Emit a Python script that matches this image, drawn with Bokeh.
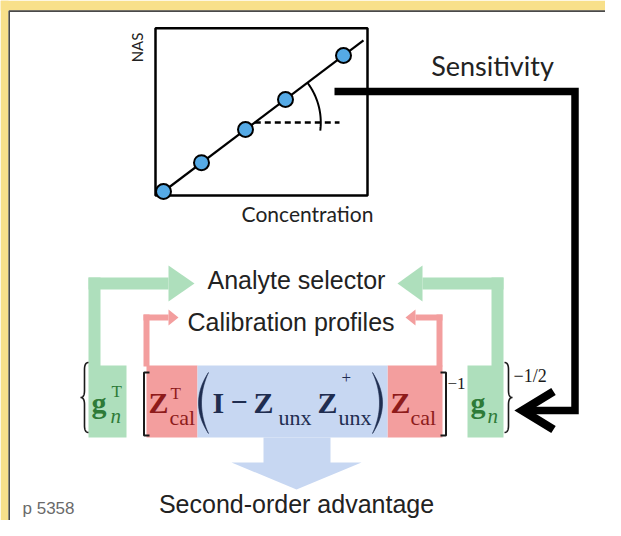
import numpy as np
from bokeh.plotting import figure
from bokeh.models import Range1d
from bokeh.core.properties import value
from bokeh.embed import file_html
from bokeh.resources import INLINE

# ---- data of the small NAS-vs-concentration inset ----
conc = [0.0, 0.95, 2.05, 3.05, 4.5]
nas = [0.0, 0.72, 1.55, 2.3, 3.4]
fit_conc = [0.0, 5.0]
fit_nas = [0.0, 3.78]
ref_nas = 1.725          # level of the dashed horizontal reference
ref_end = 4.4            # end of the dashed reference
axis_labels = ["Concentration", "NAS"]
labels = ["Sensitivity", "Analyte selector", "Calibration profiles",
          "Second-order advantage"]
footer = "p 5358"

# inset placement in picture pixels (origin, px per unit)
OX, OY, S = 163.0, 191.0, 40.0
W, H = 605, 520

p = figure(width=W, height=H, x_range=Range1d(0, W), y_range=Range1d(H, 0),
           output_backend="svg", toolbar_location=None, min_border=0)
p.axis.visible = False
p.grid.visible = False
p.outline_line_color = None
p.background_fill_color = "white"
p.border_fill_color = "white"
p.extra_x_ranges = {"conc": Range1d((0 - OX) / S, (W - OX) / S)}
p.extra_y_ranges = {"nas": Range1d((OY - H) / S, (OY - 0) / S)}
IN = dict(x_range_name="conc", y_range_name="nas")

# yellow frame
YEL = "#F8E08A"
p.quad(left=[0, 0], right=[W, 8], bottom=[10, H], top=[0, 0], fill_color=YEL, line_color=None)
p.line([W, 8.7, 8.7], [10.6, 10.6, H], line_color="#4a4a4a", line_width=1.6)

K = 0.43  # baseline offset of "middle" texts, in em

def T(x, y, s, size, color="#222222", font="Liberation Serif", style="normal",
      align="left", angle=0.0, base=True):
    yy = y - K * size if base else y
    p.text(x=[x], y=[yy], text=[s], text_font=value(font), text_font_size=f"{size}px",
           text_font_style=style, text_color=color, text_align=align,
           text_baseline="middle", angle=angle)

# ---- inset ----
p.quad(left=[-0.2], right=[5.1], bottom=[-0.1], top=[4.08], fill_color=None,
       line_color="black", line_width=2.5, **IN)
p.line(fit_conc, fit_nas, line_color="black", line_width=2.2, **IN)
slope = (fit_nas[1] - fit_nas[0]) / (fit_conc[1] - fit_conc[0])
c0 = fit_conc[0] + (ref_nas - fit_nas[0]) / slope
p.line([c0, ref_end], [ref_nas, ref_nas], line_color="black", line_width=2.5,
       line_dash="6 4", **IN)
th = np.linspace(np.radians(-7), np.arctan(slope), 40)
r = 1.65
p.line(c0 + r * np.cos(th), ref_nas + r * np.sin(th), line_color="black", line_width=2, **IN)
p.scatter(conc, nas, size=15, fill_color="#55AAE6", line_color="black", line_width=2, **IN)
T(307, 213, axis_labels[0], 21, font="Lato", align="center", base=False)
T(136, 47, axis_labels[1], 15, font="Lato", align="center", angle=np.pi / 2, base=False)
T(492, 65, labels[0], 27, font="Lato", align="center", base=False)

# black sensitivity arrow
p.line([334, 574.5, 574.5, 528], [91, 91, 410, 410], line_color="black", line_width=7.5,
       line_join="miter")
p.line([553, 522, 553], [391, 410, 429], line_color="black", line_width=8.5, line_join="miter")

# ---- coloured connectors ----
GREEN, PINK, BLUE = "#AEDFBC", "#F39E9E", "#C7D7F2"
p.quad(left=[88, 491], right=[100, 503], top=[277, 277], bottom=[366, 366], fill_color=GREEN, line_color=None)
p.quad(left=[88, 422], right=[168, 503], top=[277, 277], bottom=[289, 289], fill_color=GREEN, line_color=None)
p.patches([[168, 168, 194], [422, 422, 397]], [[265, 301, 283], [265, 301, 283]], fill_color=GREEN, line_color=None)
p.quad(left=[143, 436], right=[149, 442], top=[314, 314], bottom=[366, 366], fill_color=PINK, line_color=None)
p.quad(left=[143, 415], right=[168, 442], top=[314, 314], bottom=[320, 320], fill_color=PINK, line_color=None)
p.patches([[168, 168, 178], [415, 415, 405]], [[309, 325, 317], [309, 325, 317]], fill_color=PINK, line_color=None)
p.quad(left=[88, 467], right=[126, 503], top=[365, 365], bottom=[437, 437], fill_color=GREEN, line_color=None)
p.quad(left=[146, 387], right=[197, 442], top=[365, 365], bottom=[437, 437], fill_color=PINK, line_color=None)
p.quad(left=[197], right=[387], top=[365], bottom=[437], fill_color=BLUE, line_color=None)
p.quad(left=[263], right=[330], top=[437], bottom=[462.5], fill_color=BLUE, line_color=None)
p.patch([231, 361, 296], [462, 462, 489], fill_color=BLUE, line_color=None)

# ---- formula ----
DR, GR, NV, BK = "#8E1B1B", "#2E7B38", "#1F2D50", "#1a1a1a"
T(91, 415, "g", 30, GR, style="bold")
T(111, 398, "T", 17, GR)
T(110, 425, "n", 21, GR, style="italic")
T(148, 415, "Z", 30, DR, style="bold")
T(170, 400, "T", 17, DR)
T(169, 426, "cal", 22, DR)
T(212, 415, "I", 30, NV, style="bold")
T(230, 415, "\u2212", 30, NV, style="bold")
T(253, 415, "Z", 30, NV, style="bold")
T(278, 426, "unx", 22, NV)
T(317, 415, "Z", 30, NV, style="bold")
T(341, 384, "+", 17, NV)
T(338, 426, "unx", 22, NV)
T(390, 415, "Z", 30, DR, style="bold")
T(410, 426, "cal", 22, DR)
T(447, 390, "\u22121", 17, BK)
T(470, 415, "g", 30, GR, style="bold")
T(487, 425, "n", 21, GR, style="italic")
T(513, 383, "\u22121/2", 18, BK)

def qb(a, c, b, n=14):
    t = np.linspace(0, 1, n)
    return ((1 - t) ** 2)[:, None] * np.array(a) + (2 * (1 - t) * t)[:, None] * np.array(c) + (t ** 2)[:, None] * np.array(b)

# parentheses as thin crescents
def paren(xt, top, bot, bulge_o, bulge_i):
    mid = (top + bot) / 2
    outer = qb((xt, top), (xt + bulge_o, mid), (xt, bot), 30)
    inner = qb((xt, bot), (xt + bulge_i, mid), (xt, top), 30)
    pts = np.vstack([outer, inner])
    p.patch(pts[:, 0], pts[:, 1], fill_color=NV, line_color=NV, line_width=0.6)

paren(208, 372, 433, -20, -14)
paren(372, 372, 433, 20, 14)

# square brackets
p.line([149, 143.5, 143.5, 149], [372, 372, 435, 435], line_color=BK, line_width=2)
p.line([440, 445.5, 445.5, 440], [372, 372, 435, 435], line_color=BK, line_width=2)

# curly braces
def brace(xt, xs, xp, top, bot):
    mid = (top + bot) / 2
    k = 7
    pts = np.vstack([
        qb((xt, top), (xs, top), (xs, top + k)),
        qb((xs, mid - k), (xs, mid), (xp, mid)),
        qb((xp, mid), (xs, mid), (xs, mid + k)),
        qb((xs, bot - k), (xs, bot), (xt, bot)),
    ])
    p.line(pts[:, 0], pts[:, 1], line_color=BK, line_width=1.6)

brace(88, 84, 80, 362, 432)
brace(504, 508, 512, 362, 432)

# ---- labels ----
T(207, 290, labels[1], 25, font="Liberation Sans")
T(187, 332, labels[2], 25, font="Liberation Sans")
T(296, 514, labels[3], 25, font="Liberation Sans", align="center")
T(22, 515, footer, 17, "#6a6a6a", font="Liberation Sans")

open("out.html", "w").write(file_html(p, INLINE))
